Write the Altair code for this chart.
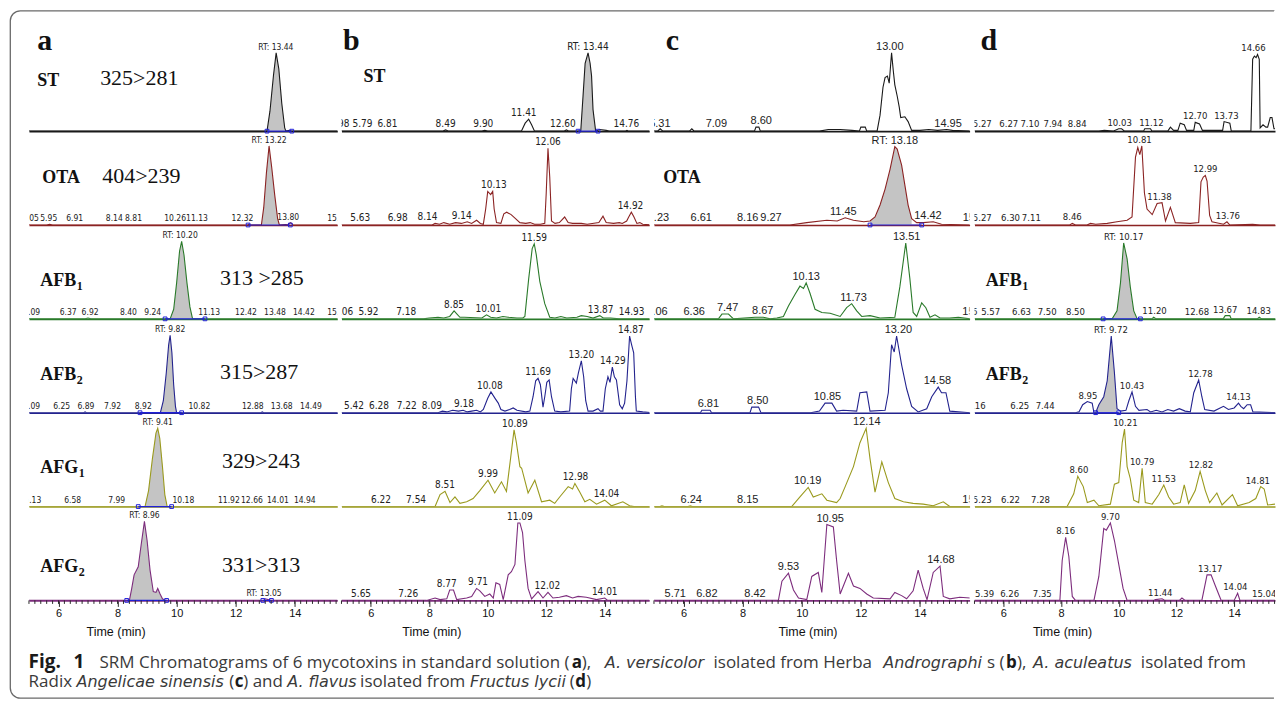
import altair as alt
import pandas as pd

PANELS = ["a", "b", "c", "d"]
ROWS = ["ST", "OTA", "AFB1", "AFB2", "AFG1", "AFG2"]

# ---------------- chromatogram traces: (time min, relative intensity %) ----------------
a_ST = [(5, 0), (13.06, 0), (13.16, 25), (13.28, 70), (13.37, 98), (13.46, 78), (13.56, 35), (13.66, 4),
        (13.70, 0), (13.82, 1), (13.9, 0), (15.5, 0)]
a_OTA = [(5, 0), (5.6, 0), (5.7, 1), (5.8, 0), (12.4, 0), (12.45, 1), (12.5, 0), (12.87, 0), (12.95, 22),
         (13.04, 65), (13.13, 99), (13.22, 72), (13.32, 38), (13.42, 8), (13.48, 0), (13.78, 1), (13.86, 3),
         (13.94, 0), (15.5, 0)]
a_AFB1 = [(5, 0), (6.9, 0), (7.0, 1), (7.1, 0), (9.78, 0), (9.90, 12), (10.0, 45), (10.1, 85), (10.17, 97),
          (10.25, 80), (10.35, 45), (10.45, 15), (10.54, 0), (15.5, 0)]
a_AFB2 = [(5, 0), (6.85, 0), (6.9, 1), (6.95, 0), (9.45, 0), (9.55, 15), (9.65, 50), (9.73, 85), (9.78, 97),
          (9.84, 75), (9.9, 35), (9.96, 8), (10.0, 0), (12.85, 0), (12.9, 1), (12.95, 0), (15.5, 0)]
a_AFG1 = [(5, 0), (8.93, 0), (9.05, 20), (9.18, 60), (9.30, 92), (9.36, 98), (9.43, 85), (9.52, 50),
          (9.60, 15), (9.68, 0), (15.5, 0)]
a_AFG2 = [(5, 0), (8.40, 0), (8.48, 15), (8.56, 32), (8.70, 42), (8.80, 70), (8.91, 99), (9.0, 75),
          (9.10, 38), (9.21, 11), (9.30, 10), (9.36, 15), (9.44, 8), (9.52, 2), (9.62, 0), (12.95, 0),
          (13.0, 2), (13.1, 1), (13.2, 0), (15.5, 0)]

b_ST = [(5, 0), (8.45, 0), (8.56, 1.5), (8.67, 0), (9.8, 0), (9.9, 1), (10.0, 0), (11.15, 0), (11.28, 10),
        (11.40, 15), (11.5, 8), (11.6, 0), (12.6, 0), (12.69, 1.5), (12.78, 0), (13.18, 0), (13.26, 45),
        (13.33, 85), (13.43, 98), (13.50, 85), (13.55, 69), (13.60, 27), (13.69, 0), (13.83, 2), (14.05, 1),
        (14.15, 0), (14.7, 0), (14.76, 1), (14.82, 0), (15.6, 0)]
b_OTA = [(5, 0), (8.1, 0), (8.2, 2), (8.35, 1), (8.5, 3), (8.7, 1), (8.9, 3), (9.1, 2), (9.3, 4), (9.45, 2),
         (9.62, 6), (9.75, 2), (9.85, 1), (9.93, 20), (10.0, 42), (10.1, 38), (10.17, 42), (10.22, 20),
         (10.3, 3), (10.45, 2), (10.55, 14), (10.65, 16), (10.8, 13), (10.95, 8), (11.1, 3), (11.3, 2),
         (11.45, 3), (11.6, 1), (11.8, 1), (11.95, 2), (12.0, 40), (12.06, 96), (12.12, 60), (12.18, 5),
         (12.3, 2), (12.45, 3), (12.63, 10), (12.75, 3), (12.9, 2), (13.2, 2), (13.4, 1), (13.8, 3),
         (13.94, 11), (14.05, 3), (14.3, 2), (14.5, 3), (14.6, 2), (14.75, 5), (14.82, 10), (14.91, 16),
         (15.0, 10), (15.1, 2), (15.2, 3), (15.3, 1), (15.6, 0)]
b_AFB1 = [(5, 0), (7.8, 0), (8.0, 1), (8.3, 2), (8.5, 1), (8.7, 3), (8.85, 10), (8.95, 6), (9.05, 2),
          (9.2, 2), (9.8, 1), (9.96, 5), (10.1, 2), (10.3, 1), (10.52, 3), (10.7, 2), (11.0, 1), (11.2, 1),
          (11.27, 3), (11.4, 50), (11.52, 88), (11.59, 94), (11.66, 80), (11.78, 47), (11.95, 19),
          (12.12, 2), (12.3, 1), (12.5, 3), (12.7, 1), (13.05, 2), (13.2, 4), (13.4, 3), (13.6, 1),
          (13.83, 4), (13.95, 1), (14.2, 1), (14.5, 0), (15.6, 0)]
b_AFB2 = [(5, 0), (8.3, 0), (8.45, 2), (8.6, 1), (8.8, 3), (9.0, 2), (9.16, 3), (9.3, 1), (9.45, 2),
          (9.62, 3), (9.75, 1), (9.85, 4), (10.0, 18), (10.11, 26), (10.25, 18), (10.36, 12), (10.45, 4),
          (10.59, 2), (10.75, 4), (10.87, 6), (11.0, 3), (11.3, 1), (11.44, 2), (11.55, 20), (11.64, 40),
          (11.72, 43), (11.80, 35), (11.89, 7), (11.95, 20), (12.02, 38), (12.10, 41), (12.18, 20),
          (12.29, 2), (12.5, 1), (12.8, 2), (12.86, 30), (12.92, 43), (13.03, 37), (13.10, 50), (13.20, 65),
          (13.28, 45), (13.35, 15), (13.43, 2), (13.6, 2), (13.77, 5), (13.85, 2), (13.94, 2), (14.02, 30),
          (14.11, 45), (14.18, 38), (14.26, 57), (14.33, 45), (14.40, 41), (14.51, 10), (14.6, 5),
          (14.68, 12), (14.76, 40), (14.85, 96), (14.92, 85), (14.99, 75), (15.05, 20), (15.08, 2),
          (15.3, 1), (15.6, 0)]
b_AFG1 = [(5, 0), (8.20, 0), (8.37, 15), (8.54, 19), (8.71, 5), (8.88, 12), (9.05, 4), (9.28, 6), (9.50, 10),
          (9.73, 20), (10.01, 33), (10.24, 17), (10.47, 31), (10.64, 19), (10.78, 60), (10.90, 96),
          (10.98, 80), (11.10, 50), (11.16, 48), (11.38, 17), (11.61, 33), (11.84, 6), (12.12, 8), (12.29, 4),
          (12.46, 12), (12.75, 25), (12.90, 22), (12.98, 29), (13.15, 18), (13.32, 6), (13.49, 9), (13.72, 3),
          (14.00, 8), (14.23, 1), (14.62, 6), (14.85, 1), (15.0, 0), (15.6, 0)]
b_AFG2 = [(5, 0), (7.91, 0), (8.20, 3), (8.37, 1), (8.60, 2), (8.70, 13), (8.83, 13), (8.94, 1), (9.28, 3),
          (9.45, 5), (9.62, 15), (9.73, 12), (9.90, 5), (10.07, 8), (10.19, 3), (10.28, 22), (10.41, 20),
          (10.53, 1), (10.70, 32), (10.81, 36), (10.93, 45), (11.03, 97), (11.10, 97), (11.19, 85),
          (11.27, 50), (11.38, 15), (11.50, 2), (11.72, 11), (11.89, 3), (12.06, 10), (12.23, 3), (12.45, 4),
          (12.69, 6), (12.9, 3), (13.09, 5), (13.37, 4), (13.72, 1), (14.00, 3), (14.1, 0), (15.6, 0)]

c_ST = [(5, 0), (5.12, 0), (5.21, 3), (5.3, 0), (6.2, 0), (6.28, 3), (6.36, 0), (8.4, 0), (8.45, 5), (8.55, 5),
        (8.6, 0), (10.6, 0), (10.9, 2), (11.3, 2), (11.7, 1), (11.95, 0), (12.0, 5), (12.15, 5), (12.2, 0),
        (12.55, 0), (12.65, 20), (12.75, 55), (12.82, 67), (12.90, 69), (12.96, 60), (13.04, 98), (13.10, 75),
        (13.15, 58), (13.23, 44), (13.30, 30), (13.35, 17), (13.49, 18), (13.60, 12), (13.72, 1), (14.0, 1),
        (14.3, 2), (14.6, 1), (14.9, 2), (15.1, 1), (15.7, 0)]
c_OTA = [(5, 0), (9.6, 0), (10.17, 3), (10.85, 6), (11.2, 5), (11.47, 9), (11.75, 6), (12.1, 4), (12.31, 5),
         (12.48, 10), (12.65, 25), (12.82, 45), (12.99, 70), (13.15, 98), (13.23, 95), (13.38, 75),
         (13.49, 50), (13.60, 25), (13.72, 8), (13.89, 3), (14.11, 3), (14.45, 4), (14.73, 1), (15.7, 0)]
c_AFB1 = [(5, 0), (7.18, 0), (7.30, 6), (7.52, 6), (7.69, 0), (8.42, 2), (8.70, 2), (8.93, 0), (9.16, 1),
          (9.38, 3), (9.55, 16), (9.78, 31), (9.94, 41), (10.06, 38), (10.15, 45), (10.28, 32), (10.45, 12),
          (10.68, 8), (10.96, 7), (11.30, 3), (11.52, 14), (11.69, 19), (11.86, 10), (12.03, 3), (12.31, 4),
          (12.65, 1), (13.15, 2), (13.32, 40), (13.52, 95), (13.66, 50), (13.77, 8), (13.89, 3), (14.06, 20),
          (14.20, 14), (14.34, 2), (14.51, 5), (14.68, 1), (15.0, 1), (15.3, 2), (15.7, 0)]
c_AFB2 = [(5, 0), (6.57, 0), (6.62, 3), (6.9, 3), (6.95, 0), (8.25, 0), (8.31, 7), (8.54, 7), (8.62, 0),
          (10.3, 0), (10.6, 2), (10.79, 12), (11.02, 12), (11.18, 2), (11.4, 3), (11.86, 2), (11.97, 25),
          (12.20, 26), (12.31, 2), (12.82, 3), (12.93, 25), (13.04, 85), (13.13, 76), (13.21, 96), (13.38, 60),
          (13.55, 30), (13.72, 8), (13.94, 1), (14.23, 5), (14.40, 20), (14.62, 32), (14.73, 25), (14.88, 25),
          (15.01, 2), (15.7, 0)]
c_AFG1 = [(5, 0), (5.2, 0), (5.27, 1), (5.35, 0), (6.15, 0), (6.23, 1), (6.3, 0), (9.66, 0), (9.94, 12),
          (10.22, 24), (10.39, 12), (10.68, 16), (10.85, 8), (11.18, 5), (11.30, 10), (11.47, 25), (11.75, 50),
          (11.97, 80), (12.18, 98), (12.31, 60), (12.48, 18), (12.71, 56), (12.93, 30), (13.15, 10),
          (13.44, 6), (13.77, 4), (14.11, 3), (14.45, 1), (14.79, 6), (15.01, 0), (15.7, 0)]
c_AFG2 = [(5, 0), (9.21, 0), (9.33, 24), (9.55, 34), (9.72, 13), (9.89, 3), (10.17, 1), (10.34, 30),
          (10.56, 35), (10.68, 10), (10.85, 95), (11.07, 92), (11.18, 50), (11.30, 8), (11.58, 34),
          (11.75, 18), (11.97, 15), (12.20, 8), (12.42, 3), (12.99, 2), (13.15, 10), (13.38, 6), (13.55, 2),
          (13.77, 12), (13.94, 38), (14.11, 15), (14.24, 1), (14.45, 35), (14.68, 43), (14.79, 5), (15.01, 2),
          (15.35, 4), (15.7, 3)]

d_ST = [(5, 0), (9.31, 0), (9.5, 1), (9.8, 0), (10.0, 3), (10.1, 3), (10.2, 0), (10.86, 0), (10.9, 3),
        (11.1, 3), (11.15, 0), (11.7, 0), (11.79, 5), (11.9, 1), (12.05, 1), (12.13, 10), (12.27, 8),
        (12.35, 1), (12.6, 1), (12.65, 11), (12.8, 9), (12.9, 1), (13.0, 1), (13.6, 1), (13.65, 12),
        (13.85, 10), (13.9, 0), (14.58, 0), (14.64, 90), (14.70, 94), (14.76, 92), (14.81, 96), (14.87, 90),
        (14.9, 4), (15.0, 8), (15.1, 5), (15.16, 5), (15.25, 17), (15.31, 17), (15.38, 3), (15.5, 3)]
d_OTA = [(5, 0), (8.3, 0), (8.39, 2), (8.5, 0), (8.9, 0), (9.02, 2), (9.2, 1), (9.60, 2), (9.94, 4),
         (10.29, 6), (10.46, 10), (10.58, 85), (10.66, 97), (10.73, 88), (10.80, 99), (10.89, 40),
         (10.98, 20), (11.16, 13), (11.33, 27), (11.50, 28), (11.62, 5), (11.79, 22), (11.96, 3), (12.48, 2),
         (12.77, 3), (12.85, 54), (12.93, 60), (13.00, 62), (13.06, 55), (13.15, 12), (13.23, 4), (13.63, 1),
         (13.75, 4), (13.85, 0), (14.64, 1), (14.9, 0), (15.5, 0)]
d_AFB1 = [(5, 0), (9.77, 0), (9.94, 10), (10.06, 45), (10.17, 95), (10.29, 75), (10.40, 40), (10.52, 10),
          (10.64, 0), (11.15, 0), (11.21, 2), (11.3, 0), (13.62, 0), (13.69, 4), (13.85, 4), (13.9, 0),
          (14.8, 0), (14.87, 2), (14.95, 0), (15.5, 0)]
d_AFB2 = [(5, 0), (8.50, 0), (8.62, 1), (8.75, 10), (8.91, 14), (9.08, 12), (9.14, 0), (9.20, 0),
          (9.31, 10), (9.48, 20), (9.60, 40), (9.74, 96), (9.85, 50), (9.94, 5), (10.06, 2), (10.25, 3),
          (10.35, 15), (10.46, 26), (10.58, 8), (10.70, 3), (10.98, 4), (11.1, 1), (11.3, 3), (11.5, 1),
          (11.7, 4), (11.9, 2), (12.1, 5), (12.3, 2), (12.48, 1), (12.60, 25), (12.77, 41), (12.88, 20),
          (12.98, 4), (13.3, 2), (13.63, 8), (13.8, 4), (14.0, 6), (14.15, 12), (14.23, 8), (14.33, 5),
          (14.45, 10), (14.57, 10), (14.65, 1), (15.5, 0)]
d_AFG1 = [(5, 0), (8.21, 0), (8.44, 16), (8.58, 38), (8.77, 25), (8.91, 5), (9.14, 8), (9.31, 1), (9.71, 3),
          (9.85, 28), (10.00, 30), (10.12, 80), (10.20, 97), (10.29, 50), (10.40, 35), (10.52, 8), (10.69, 5),
          (10.81, 48), (10.92, 5), (11.16, 3), (11.39, 15), (11.56, 27), (11.73, 12), (11.90, 3), (12.13, 5),
          (12.27, 27), (12.42, 4), (12.65, 20), (12.82, 44), (13.00, 20), (13.15, 5), (13.40, 17), (13.58, 2),
          (13.94, 15), (14.12, 1), (14.52, 5), (14.75, 10), (14.92, 25), (15.04, 22), (15.16, 2), (15.4, 3),
          (15.5, 2)]
d_AFG2 = [(5, 0), (7.96, 0), (8.04, 50), (8.16, 79), (8.27, 55), (8.39, 5), (8.5, 0), (9.14, 0), (9.31, 30),
          (9.48, 90), (9.57, 88), (9.71, 97), (9.85, 75), (10.00, 45), (10.15, 15), (10.29, 0), (11.2, 0),
          (11.27, 1), (11.50, 2), (11.6, 0), (12.1, 0), (12.19, 3), (12.3, 0), (12.88, 0), (13.06, 32),
          (13.20, 32), (13.35, 18), (13.46, 8), (13.55, 0), (14.0, 0), (14.12, 9), (14.2, 0), (15.5, 0)]

# ---------------- peak labels: (time, intensity, text) ----------------
a_ST_lab = [(13.36, 98, "RT: 13.44")]
a_OTA_lab = [(5.05, 1, "5.05"), (5.67, 1, "5.95"), (6.55, 1, "6.91"), (7.89, 1, "8.14"), (8.54, 1, "8.81"),
             (9.95, 1, "10.26"), (10.69, 1, "11.13"), (12.23, 1, "12.32"), (13.13, 99, "RT: 13.22"),
             (13.78, 3, "13.80"), (15.47, 1, "15.32")]
a_AFB1_lab = [(5.09, 1, "5.09"), (6.33, 1, "6.37"), (7.07, 1, "6.92"), (8.37, 1, "8.40"), (9.19, 1, "9.24"),
              (10.12, 97, "RT: 10.20"), (11.10, 1, "11.13"), (12.35, 1, "12.42"), (13.33, 1, "13.48"),
              (14.31, 1, "14.42"), (15.47, 1, "15.36")]
a_AFB2_lab = [(5.09, 1, "5.09"), (6.11, 1, "6.25"), (6.93, 1, "6.89"), (7.83, 1, "7.92"), (8.87, 1, "8.92"),
              (9.78, 97, "RT: 9.82"), (10.77, 1, "10.82"), (12.58, 1, "12.88"), (13.56, 1, "13.68"),
              (14.55, 1, "14.49")]
a_AFG1_lab = [(5.13, 1, "5.13"), (6.48, 1, "6.58"), (7.97, 1, "7.99"), (9.36, 98, "RT: 9.41"),
              (10.23, 1, "10.18"), (11.77, 1, "11.92"), (12.55, 1, "12.66"), (13.43, 1, "14.01"),
              (14.34, 1, "14.94")]
a_AFG2_lab = [(8.91, 99, "RT: 8.96"), (12.96, 2, "RT: 13.05")]

b_ST_lab = [(4.93, 1, "4.98"), (5.72, 1, "5.79"), (6.57, 1, "6.81"), (8.56, 1.5, "8.49"), (9.85, 1, "9.90"),
            (11.23, 15, "11.41"), (12.57, 1.5, "12.60"), (13.43, 98, "RT: 13.44"), (14.74, 1, "14.76")]
b_OTA_lab = [(5.64, 1, "5.63"), (6.92, 1, "6.98"), (7.94, 3, "8.14"), (9.11, 4, "9.14"), (10.21, 42, "10.13"),
             (12.06, 96, "12.06"), (14.88, 16, "14.92")]
b_AFB1_lab = [(5.06, 1, "5.06"), (5.92, 1, "5.92"), (7.21, 1, "7.18"), (8.85, 10, "8.85"), (10.02, 5, "10.01"),
              (11.59, 94, "11.59"), (13.86, 4, "13.87"), (14.92, 1, "14.93")]
b_AFB2_lab = [(5.43, 1, "5.42"), (6.28, 1, "6.28"), (7.23, 1, "7.22"), (8.09, 1, "8.09"), (9.19, 3, "9.18"),
              (10.07, 26, "10.08"), (11.72, 43, "11.69"), (13.20, 65, "13.20"), (14.28, 57, "14.29"),
              (14.89, 96, "14.87")]
b_AFG1_lab = [(6.35, 1, "6.22"), (7.55, 1, "7.54"), (8.54, 19, "8.51"), (10.01, 33, "9.99"),
              (10.93, 96, "10.89"), (13.00, 29, "12.98"), (14.06, 8, "14.04")]
b_AFG2_lab = [(5.67, 1, "5.65"), (7.28, 1, "7.26"), (8.60, 13, "8.77"), (9.67, 15, "9.71"),
              (11.10, 97, "11.09"), (12.04, 11, "12.02"), (14.00, 3, "14.01")]

c_ST_lab = [(5.2, 1, "5.31"), (7.11, 1, "7.09"), (8.63, 5, "8.60"), (12.98, 98, "13.00"), (14.95, 2, "14.95")]
c_OTA_lab = [(5.15, 1, "5.23"), (6.60, 1, "6.61"), (8.17, 1, "8.16"), (8.96, 1, "9.27"), (11.41, 9, "11.45"),
             (13.15, 98, "RT: 13.18"), (14.27, 4, "14.42"), (15.9, 1, "15.11")]
c_AFB1_lab = [(5.1, 1, "5.06"), (6.36, 1, "6.36"), (7.49, 6, "7.47"), (8.68, 2, "8.67"), (10.15, 45, "10.13"),
              (11.75, 19, "11.73"), (13.55, 95, "13.51"), (15.9, 1, "15.21")]
c_AFB2_lab = [(6.84, 3, "6.81"), (8.51, 7, "8.50"), (10.87, 12, "10.85"), (13.27, 96, "13.20"),
              (14.59, 32, "14.58")]
c_AFG1_lab = [(6.26, 1, "6.24"), (8.17, 1, "8.15"), (10.20, 24, "10.19"), (12.20, 98, "12.14"),
              (15.9, 1, "15.21")]
c_AFG2_lab = [(5.72, 1, "5.71"), (6.79, 1, "6.82"), (8.42, 1, "8.42"), (9.55, 34, "9.53"),
              (10.96, 95, "10.95"), (14.71, 43, "14.68")]

d_ST_lab = [(5.27, 1, "5.27"), (6.19, 1, "6.27"), (6.92, 1, "7.10"), (7.72, 1, "7.94"), (8.56, 1, "8.84"),
            (10.03, 3, "10.03"), (11.13, 3, "11.12"), (12.65, 11, "12.70"), (13.73, 12, "13.73"),
            (14.67, 96, "14.66")]
d_OTA_lab = [(5.27, 1, "5.27"), (6.25, 1, "6.30"), (6.97, 1, "7.11"), (8.39, 2, "8.46"), (10.72, 99, "10.81"),
             (11.41, 28, "11.38"), (13.00, 62, "12.99"), (13.78, 4, "13.76")]
d_AFB1_lab = [(4.77, 1, "5.16"), (5.56, 1, "5.57"), (6.63, 1, "6.63"), (7.52, 1, "7.50"), (8.50, 1, "8.50"),
              (10.17, 95, "RT: 10.17"), (11.24, 2, "11.20"), (12.71, 1, "12.68"), (13.69, 4, "13.67"),
              (14.85, 2, "14.83")]
d_AFB2_lab = [(5.06, 1, "5.16"), (6.57, 1, "6.25"), (7.45, 1, "7.44"), (8.93, 14, "8.95"),
              (9.73, 96, "RT: 9.72"), (10.46, 26, "10.43"), (12.83, 41, "12.78"), (14.15, 12, "14.13")]
d_AFG1_lab = [(5.27, 1, "5.23"), (6.25, 1, "6.22"), (7.29, 1, "7.28"), (8.62, 38, "8.60"), (10.23, 97, "10.21"),
              (10.81, 48, "10.79"), (11.56, 27, "11.53"), (12.85, 44, "12.82"), (14.82, 25, "14.81")]
d_AFG2_lab = [(5.35, 1, "5.39"), (6.22, 1, "6.26"), (7.35, 1, "7.35"), (8.16, 79, "8.16"), (9.71, 97, "9.70"),
              (11.44, 2, "11.44"), (13.17, 32, "13.17"), (14.04, 9, "14.04"), (15.04, 1, "15.04")]

# integrated (grey) peaks and integration windows: (panel, row, start, end)
FILLS = [("a", "ST", 13.06, 13.70), ("a", "OTA", 12.87, 13.48), ("a", "AFB1", 9.78, 10.54),
         ("a", "AFB2", 9.45, 10.0), ("a", "AFG1", 8.93, 9.68), ("a", "AFG2", 8.40, 9.62),
         ("b", "ST", 13.18, 13.69), ("c", "OTA", 12.31, 13.72), ("d", "AFB1", 9.77, 10.64),
         ("d", "AFB2", 9.20, 9.94)]
WINDOWS = [("a", "ST", 13.06, 13.90), ("a", "OTA", 12.42, 13.85), ("a", "AFB1", 9.61, 10.96),
           ("a", "AFB2", 8.76, 10.17), ("a", "AFG1", 8.70, 9.83), ("a", "AFG2", 8.31, 9.66),
           ("a", "AFG2", 12.92, 13.21), ("b", "ST", 13.09, 13.77), ("c", "OTA", 12.31, 14.06),
           ("d", "AFB1", 9.46, 10.75), ("d", "AFB2", 9.20, 10.00)]

# compound names (panel, row, time, intensity, name, subscript) and transitions
ROW_NAMES = [("a", "ST", 5.28, 57, "ST", ""), ("a", "OTA", 5.45, 52, "OTA", ""),
             ("a", "AFB1", 5.38, 41, "AFB", "1"), ("a", "AFB2", 5.38, 41, "AFB", "2"),
             ("a", "AFG1", 5.38, 42, "AFG", "1"), ("a", "AFG2", 5.38, 36, "AFG", "2"),
             ("b", "ST", 5.75, 62, "ST", ""), ("c", "OTA", 5.31, 52, "OTA", ""),
             ("d", "AFB1", 5.39, 41, "AFB", "1"), ("d", "AFB2", 5.39, 41, "AFB", "2")]
TRANSITIONS = [("a", "ST", 7.41, 58, "325>281"), ("a", "OTA", 7.48, 52, "404>239"),
               ("a", "AFB1", 11.47, 42, "313 >285"), ("a", "AFB2", 11.47, 42, "315>287"),
               ("a", "AFG1", 11.54, 48, "329>243"), ("a", "AFG2", 11.54, 36, "331>313")]
LETTERS = [("a", 5.28, 102), ("b", 5.05, 102), ("c", 5.40, 102), ("d", 5.21, 102)]
TITLE_X = {"a": 7.95, "b": 8.09, "c": 10.21, "d": 8.05}
MAJOR_TICKS = [6, 8, 10, 12, 14]
MINOR_TICKS = [round(5 + 0.2 * k, 1) for k in range(54)]

CAP_LINE1 = [("Fig.", "fig"), ("1", "fig"),
             ("SRM Chromatograms of 6 mycotoxins in standard solution (", "regular"),
             ("a", "bold"), ("),", "regular"), ("A. versicolor", "italic"), ("isolated from Herba", "regular"),
             ("Andrographi", "italic"), ("s (", "regular"), ("b", "bold"), ("),", "regular"),
             ("A. aculeatus", "italic"), ("isolated from", "regular")]
CAP_LINE2 = [("Radix", "regular"), ("Angelicae sinensis", "italic"), ("(", "regular"), ("c", "bold"),
             (") and", "regular"), ("A. flavus", "italic"), ("isolated from", "regular"),
             ("Fructus lycii", "italic"), ("(", "regular"), ("d", "bold"), (")", "regular")]

# ---------------- layout / style ----------------
CAP_LINE1_X = [28, 73, 99, 572, 582, 605, 714, 884, 988, 1007, 1018, 1034, 1142]
CAP_LINE2_X = [28, 76, 229, 234.5, 243, 287, 360, 470, 570, 575.5, 586.5]
CAP_Y = [668, 687]
ORIGIN_X = 28.35          # page x of panel a plot area
ROW6_TOP = 506.35         # page y of the top of the last row
BOX = (9.65, 1275.3, 9.65, 698.0)   # page left, right, top, bottom of the frame
PANEL_W = {"a": 308.8, "b": 308.2, "c": 316.1, "d": 301.0}
PANEL_D = {"a": 15.44, "b": 15.52, "c": 15.68, "d": 15.415}
ROW_H = 93.8
YMAX = 117.25
ROW_COLORS = {"ST": "#1a1a1a", "OTA": "#8b2323", "AFB1": "#2a7a2a", "AFB2": "#23238e",
              "AFG1": "#9a9a1e", "AFG2": "#7d2d7d"}
FILL_GRAY = "#c4c4c4"
BLUE = "#2020d8"
NARROW = "Liberation Sans Narrow, Arial Narrow, DejaVu Sans Condensed, Liberation Sans, sans-serif"
LABEL_FONT = {"a": (NARROW, 8.5), "b": (NARROW, 10), "c": ("Liberation Sans, Arial, sans-serif", 11),
              "d": (NARROW, 9.5)}
SERIF = "Liberation Serif, Times New Roman, serif"
SUB_DX = {"AFB": 36.5, "AFG": 38.5}
CAP_STYLE = {"regular": ("Open Sans", "normal", "normal", 17, "#3a3a3a"),
             "italic": ("DejaVu Sans", "italic", "normal", 16, "#3a3a3a"),
             "bold": ("Open Sans", "normal", "bold", 17, "#1a1a1a"),
             "fig": ("Open Sans", "normal", "bold", 19, "#1a1a1a")}


def caption_layers():
    dummy = pd.DataFrame({"k": [0]})
    left, right, top, bottom = BOX
    w, h, rad = right - left, bottom - top, 10
    out = [alt.Chart(dummy).mark_rect(fill="transparent", stroke="#6a6a6a", strokeWidth=1.3,
                                      cornerRadiusTopLeft=rad, cornerRadiusBottomLeft=rad,
                                      cornerRadiusTopRight=0, cornerRadiusBottomRight=0,
                                      strokeDash=[w - rad, h, 4000])
           .encode(x=alt.value(left - ORIGIN_X), x2=alt.value(right - ORIGIN_X),
                   y=alt.value(top - ROW6_TOP), y2=alt.value(bottom - ROW6_TOP))]
    for segs, xs, yy in ((CAP_LINE1, CAP_LINE1_X, CAP_Y[0]), (CAP_LINE2, CAP_LINE2_X, CAP_Y[1])):
        for (txt, sty), xx in zip(segs, xs):
            fnt, fst, fw, fsz, fc = CAP_STYLE[sty]
            out.append(alt.Chart(dummy).mark_text(align="left", baseline="alphabetic", font=fnt,
                                                  fontSize=fsz, fontStyle=fst, fontWeight=fw, color=fc)
                       .encode(x=alt.value(xx - ORIGIN_X), y=alt.value(yy - ROW6_TOP), text=alt.value(txt)))
    return out


def make_row(p, r):
    col = ROW_COLORS[r]
    last = r == ROWS[-1]
    xs = alt.Scale(domain=[5, PANEL_D[p]], nice=False, zero=False)
    ys = alt.Scale(domain=[0, YMAX], nice=False, zero=False)
    if last:
        ax = alt.Axis(values=MAJOR_TICKS, format="d", grid=False, title=None, domainColor=col,
                      domainWidth=1.6, tickColor="#2a2a2a", tickWidth=1, tickSize=6,
                      labelFont="Liberation Sans", labelFontSize=11, labelColor="#111",
                      labelPadding=1, labelFlush=False, labelOverlap=False)
    else:
        ax = alt.Axis(labels=False, ticks=False, grid=False, title=None, domainColor=col, domainWidth=1.6)
    X = alt.X("t:Q", scale=xs, axis=ax)
    Y = alt.Y("I:Q", scale=ys, axis=None)
    tr = pd.DataFrame(globals()[f"{p}_{r}"], columns=["t", "I"])
    layers = []
    for fp, fr, fs, fe in FILLS:
        if fp == p and fr == r:
            layers.append(alt.Chart(tr).transform_filter(f"datum.t >= {fs} && datum.t <= {fe}")
                          .mark_area(color=FILL_GRAY, clip=True).encode(x=X, y=Y))
    layers.append(alt.Chart(tr).mark_line(color=col, strokeWidth=1.1, clip=True).encode(x=X, y=Y))
    wins = [(ws, we) for wp, wr, ws, we in WINDOWS if wp == p and wr == r]
    if wins:
        wdf = pd.DataFrame(wins, columns=["t", "t2"])
        wdf["I"] = 0
        layers.append(alt.Chart(wdf).mark_rule(color=BLUE, strokeWidth=1.2)
                      .encode(x=X, x2="t2:Q", y=Y))
        sq = pd.DataFrame({"t": [w for pair in wins for w in pair]})
        sq["I"] = 0
        layers.append(alt.Chart(sq).mark_point(shape="square", size=14, filled=False, color=BLUE,
                                               strokeWidth=1, opacity=1).encode(x=X, y=Y))
    lab = pd.DataFrame(globals()[f"{p}_{r}_lab"], columns=["t", "I", "txt"])
    font, fsize = LABEL_FONT[p]
    layers.append(alt.Chart(lab).mark_text(clip=True, baseline="bottom", align="center", dy=-1,
                                           font=font, fontSize=fsize, color="#222")
                  .encode(x=X, y=Y, text="txt:N"))
    for np_, nr, nt, ni, name, sub in ROW_NAMES:
        if np_ == p and nr == r:
            ndf = pd.DataFrame([{"t": nt, "I": ni, "txt": name, "sub": sub}])
            layers.append(alt.Chart(ndf).mark_text(align="left", baseline="alphabetic", font=SERIF,
                                                   fontWeight="bold", fontSize=18, color="#111")
                          .encode(x=X, y=Y, text="txt:N"))
            if sub:
                layers.append(alt.Chart(ndf).mark_text(align="left", baseline="alphabetic", font=SERIF,
                                                       fontWeight="bold", fontSize=12, color="#111",
                                                       dx=SUB_DX[name], dy=4)
                              .encode(x=X, y=Y, text="sub:N"))
    for tp, trw, tt, ti, txt in TRANSITIONS:
        if tp == p and trw == r:
            tdf = pd.DataFrame([{"t": tt, "I": ti, "txt": txt}])
            layers.append(alt.Chart(tdf).mark_text(align="left", baseline="alphabetic", font=SERIF,
                                                   fontSize=22, color="#111")
                          .encode(x=X, y=Y, text="txt:N"))
    if r == ROWS[0]:
        for lp, lt, li in LETTERS:
            if lp == p:
                ldf = pd.DataFrame([{"t": lt, "I": li, "txt": lp}])
                layers.append(alt.Chart(ldf).mark_text(align="left", baseline="alphabetic", font=SERIF,
                                                       fontWeight="bold", fontSize=30, color="#111")
                              .encode(x=X, y=Y, text="txt:N"))
    if last:
        mt = pd.DataFrame({"t": [v for v in MINOR_TICKS if 5 <= v <= PANEL_D[p]]})
        layers.append(alt.Chart(mt).mark_rule(color="#2a2a2a", strokeWidth=1)
                      .encode(x=X, y=alt.value(ROW_H), y2=alt.value(ROW_H + 3.5)))
        tdf = pd.DataFrame([{"t": TITLE_X[p], "txt": "Time (min)"}])
        layers.append(alt.Chart(tdf).mark_text(align="center", baseline="middle", font="Liberation Sans",
                                               fontSize=12.5, color="#111")
                      .encode(x=X, y=alt.value(ROW_H + 31.8), text="txt:N"))
        if p == PANELS[0]:
            layers.extend(caption_layers())
    return alt.layer(*layers).properties(width=PANEL_W[p], height=ROW_H)


cells = [make_row(p, r) for r in ROWS for p in PANELS]
chart = (alt.concat(*cells, columns=4, spacing={"row": 0, "column": 4}, bounds="flush", align="each")
         .properties(padding={"left": 1, "top": 1, "right": 0, "bottom": 1})
         .configure(background="white")
         .configure_view(strokeWidth=0, stroke="transparent"))

chart.save("out.html", embed_options={"renderer": "svg", "actions": False})
